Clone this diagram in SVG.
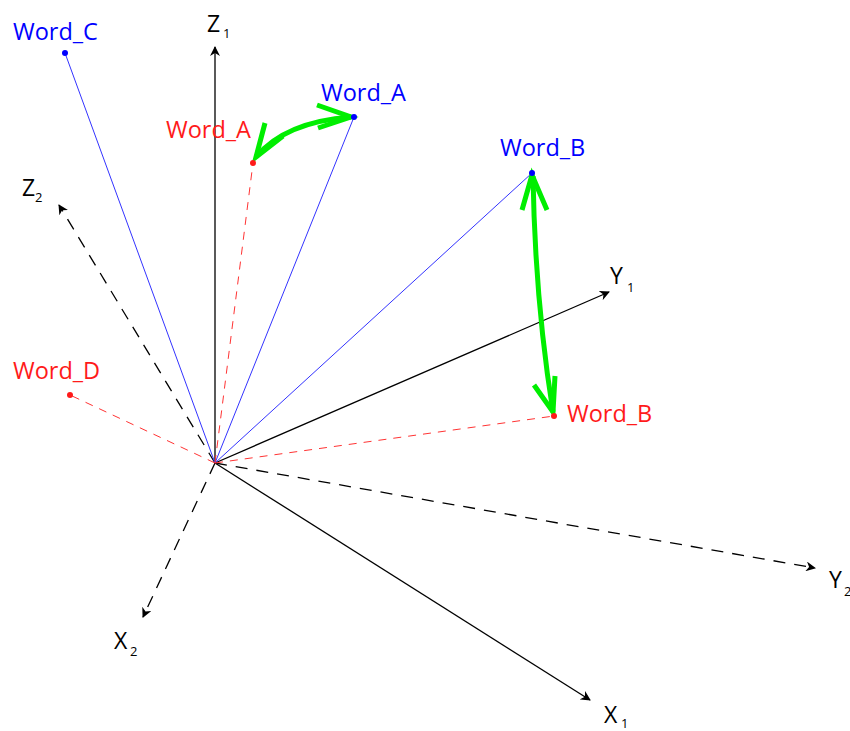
<svg xmlns="http://www.w3.org/2000/svg" width="850" height="731" viewBox="0 0 850 731">
<style>
text{font-family:"Open Sans","Liberation Sans",sans-serif}
.lbl{font-size:23.5px}
.ax{font-size:23px;fill:#000}
.sub{font-size:13px;fill:#000}
.blue{fill:#0000ff}
.red{fill:#ff1a1a}
.axis{stroke:#000;stroke-width:1.3;fill:none;marker-end:url(#ah)}
.dash{stroke-dasharray:12 9}
.bl{stroke:#3333ff;stroke-width:1;fill:none}
.rl{stroke:#ff3333;stroke-width:1;stroke-dasharray:8 7;fill:none}
.g{stroke:#00ee00;stroke-width:5;fill:none;stroke-linecap:butt;stroke-linejoin:miter}
</style>
<defs>
<marker id="ah" viewBox="0 0 10 10" refX="9" refY="5" markerWidth="10" markerHeight="10" markerUnits="userSpaceOnUse" orient="auto">
<path d="M0,0 L10,5 L0,10 L3,5 Z" fill="#000"/>
</marker>
</defs>
<g id="connectors">
<line class="axis" x1="215" y1="463" x2="215" y2="47"/>
<line class="axis" x1="215" y1="463" x2="609" y2="292"/>
<line class="axis" x1="215" y1="463" x2="590" y2="700"/>
<line class="axis dash" x1="215" y1="463" x2="59" y2="205"/>
<line class="axis dash" x1="215" y1="463" x2="143" y2="617"/>
<line class="axis dash" x1="215" y1="463" x2="815" y2="568"/>
<line class="bl" x1="215" y1="463" x2="65" y2="53"/>
<line class="bl" x1="215" y1="463" x2="354" y2="117"/>
<line class="bl" x1="215" y1="463" x2="532" y2="173"/>
<line class="rl" x1="215" y1="463" x2="253" y2="163"/>
<line class="rl" x1="215" y1="463" x2="70" y2="395"/>
<line class="rl" x1="215" y1="463" x2="554" y2="416"/>
<path class="g" d="M256,157 Q285,122 351,117"/>
<path class="g" d="M265,123 L256,157 L283,136"/>
<path class="g" d="M317,105 L351,117 L318,128"/>
<path class="g" d="M533,176 Q535,300 553,412"/>
<path class="g" d="M522,210 L532,175 L547,210"/>
<path class="g" d="M534,385 L553,412 L555,376"/>
</g>
<g id="Z1"><text class="ax" x="207" y="32">Z</text><text class="sub" x="223" y="38">1</text></g>
<g id="Y1"><text class="ax" x="610" y="284">Y</text><text class="sub" x="627" y="292">1</text></g>
<g id="X1"><text class="ax" x="604" y="723">X</text><text class="sub" x="621" y="728">1</text></g>
<g id="Z2"><text class="ax" x="22" y="196">Z</text><text class="sub" x="35" y="202">2</text></g>
<g id="X2"><text class="ax" x="114" y="649">X</text><text class="sub" x="130" y="656">2</text></g>
<g id="Y2"><text class="ax" x="829" y="588">Y</text><text class="sub" x="844" y="596">2</text></g>
<g id="Word_C"><circle cx="65" cy="53" r="3" fill="#0000ff"/><text class="lbl blue" x="13" y="40">Word_C</text></g>
<g id="Word_A_blue"><circle cx="354" cy="117" r="3" fill="#0000ff"/><text class="lbl blue" x="321" y="101">Word_A</text></g>
<g id="Word_B_blue"><circle cx="532" cy="173" r="3" fill="#0000ff"/><text class="lbl blue" x="500" y="156">Word_B</text></g>
<g id="Word_A_red"><circle cx="253" cy="163" r="3" fill="#ff1a1a"/><text class="lbl red" x="166" y="138">Word_A</text></g>
<g id="Word_B_red"><circle cx="554" cy="416" r="3" fill="#ff1a1a"/><text class="lbl red" x="567" y="422">Word_B</text></g>
<g id="Word_D"><circle cx="70" cy="395" r="3" fill="#ff1a1a"/><text class="lbl red" x="13" y="379">Word_D</text></g>
</svg>
